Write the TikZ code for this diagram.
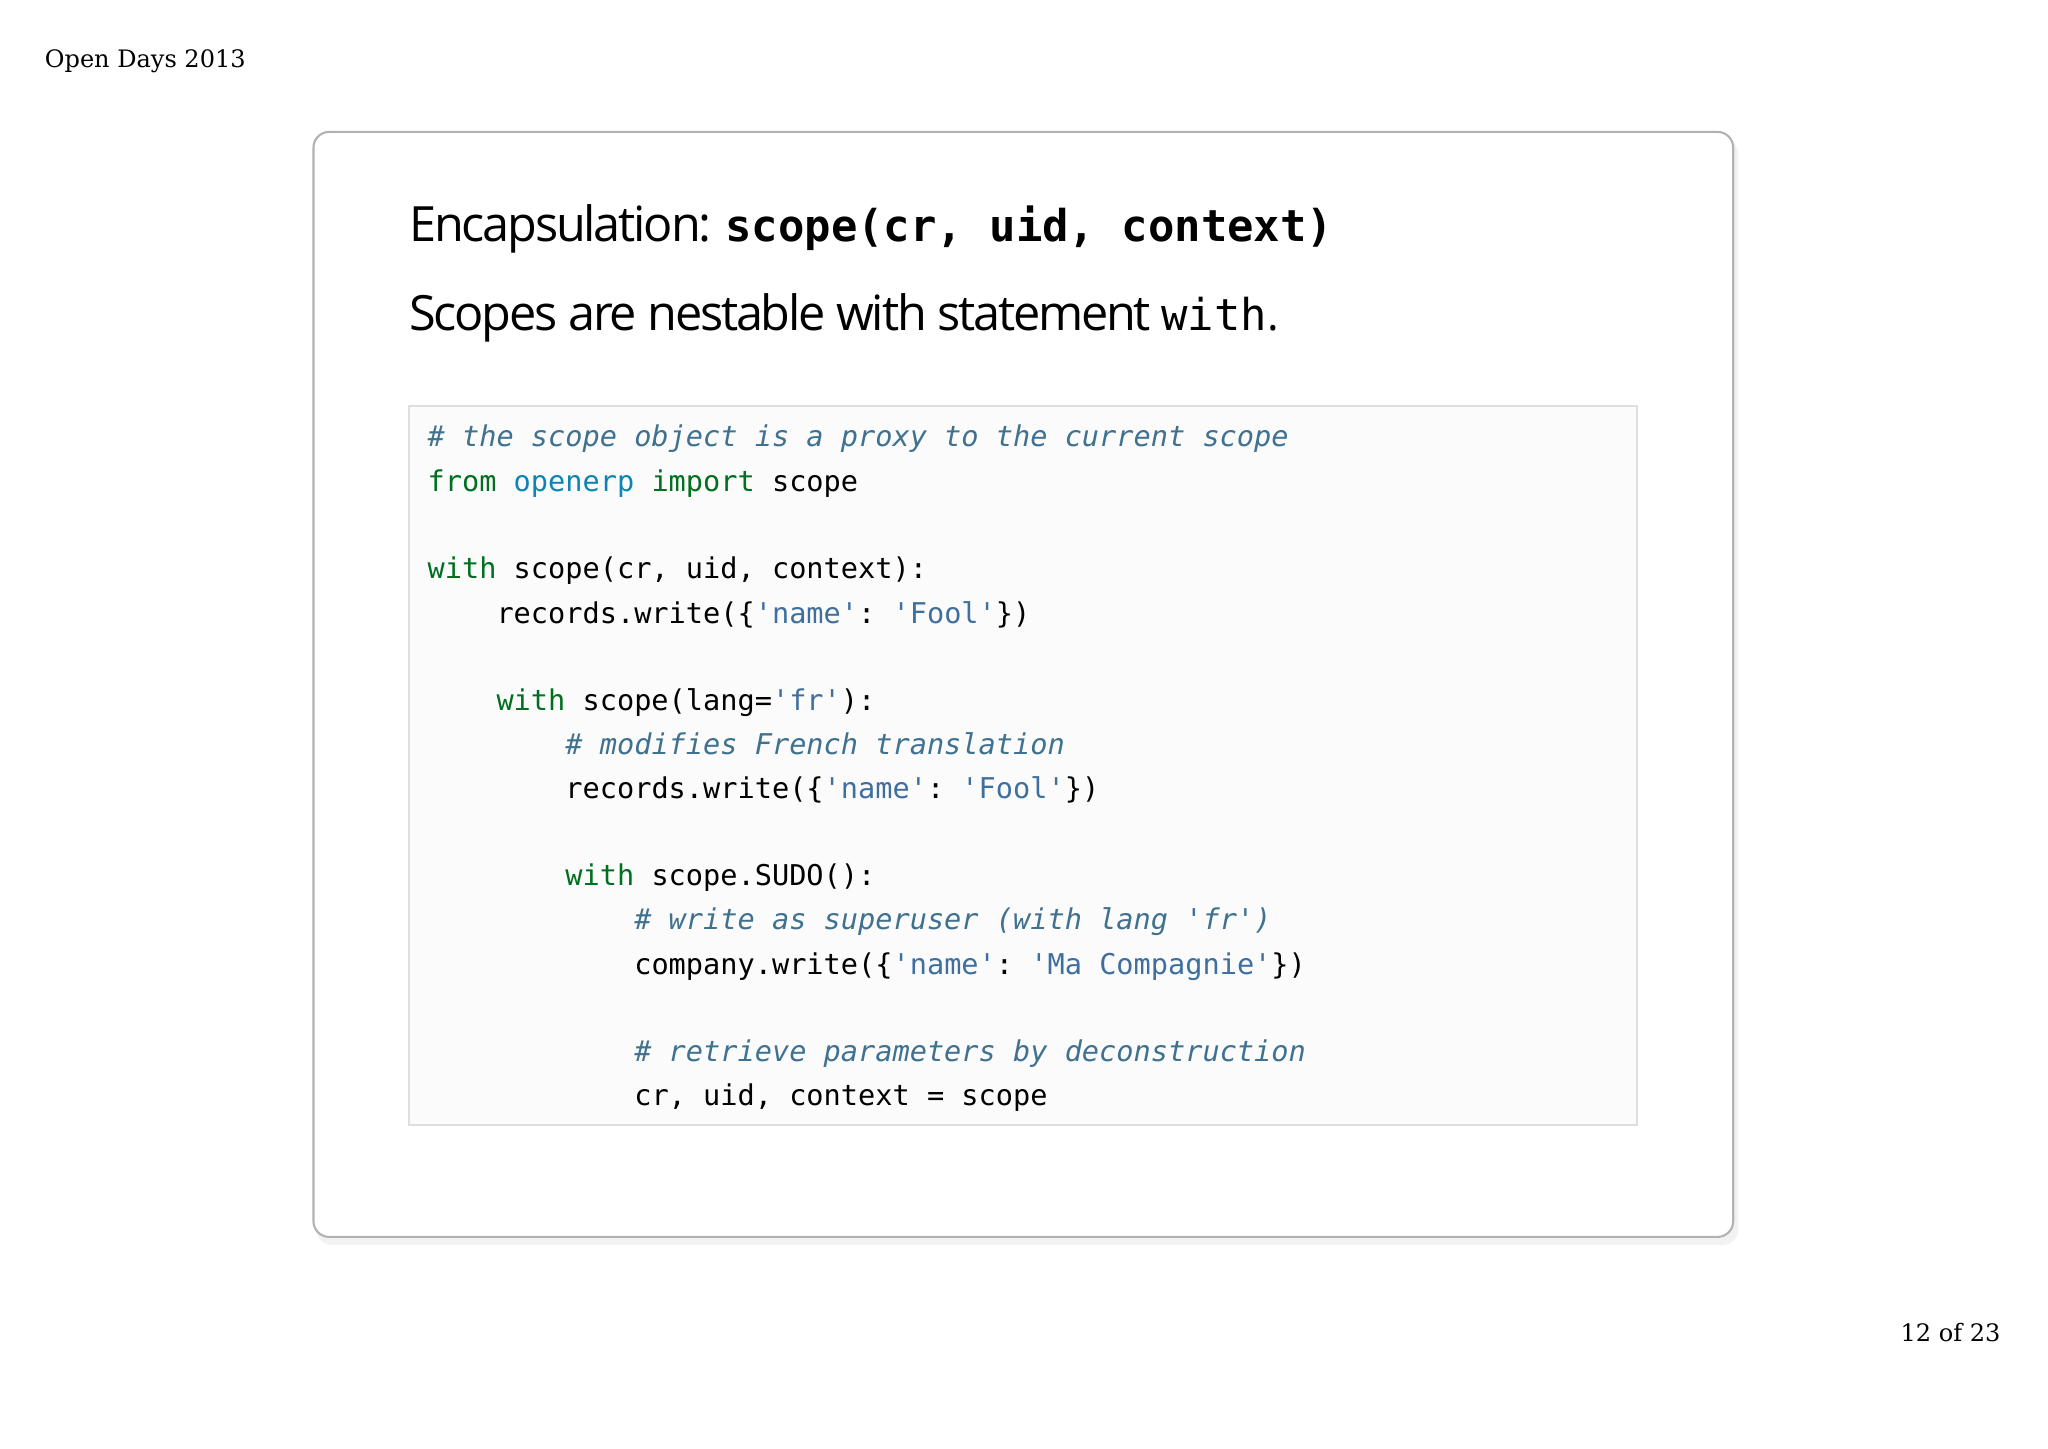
\documentclass[tikz,border=0pt]{standalone}
\usepackage{fontspec}
\setmainfont{Open Sans}
\setmonofont{DejaVu Sans Mono}
\newfontfamily\hdrfont{DejaVu Serif}
\newfontfamily\ttlfont[LetterSpace=-4.5]{Open Sans}
\definecolor{pycom}{HTML}{3F7190}
\definecolor{pykw}{HTML}{007020}
\definecolor{pystr}{HTML}{3F6F9F}
\definecolor{pymod}{HTML}{0E84B5}
\newcommand{\pyc}[1]{\textcolor{pycom}{\itshape #1}}
\newcommand{\pyk}[1]{\textcolor{pykw}{#1}}
\newcommand{\pys}[1]{\textcolor{pystr}{#1}}
\newcommand{\pym}[1]{\textcolor{pymod}{#1}}
\begin{document}
\begin{tikzpicture}[x=0.5pt,y=-0.5pt,
  code/.style={anchor=base west,inner sep=0pt,font=\ttfamily\fontsize{10.95pt}{12pt}\selectfont},
  hdr/.style={inner sep=0pt,font=\hdrfont\fontsize{9.2pt}{10pt}\selectfont}]
\useasboundingbox (0,0) rectangle (1568,1109);
\fill[white] (0,0) rectangle (1568,1109);
\node[hdr,anchor=base west] (h1) at (34,52) {Open Days 2013};
\node[hdr,anchor=base east] (h2) at (1532,1027) {12 of 23};
% card shadow and card
\fill[black!5,rounded corners=6] (242,106) rectangle (1331,953);
\draw[black!30,line width=0.8pt,fill=white,rounded corners=6] (240,101) rectangle (1327,947);
\node[anchor=base west,inner sep=0pt] (t1) at (313,185)
  {\ttlfont\fontsize{18.6pt}{22pt}\selectfont Encapsulation: \ttfamily\bfseries\fontsize{16.8pt}{20pt}\selectfont scope(cr, uid, context)};
\node[anchor=base west,inner sep=0pt] (t2) at (313,253)
  {\ttlfont\fontsize{18.6pt}{22pt}\selectfont Scopes are nestable with statement \ttfamily\fontsize{16.8pt}{20pt}\selectfont with\ttlfont.};
\draw[black!13,line width=0.8pt,fill=black!1.5] (313,311) rectangle (1253,861);
\node[code] (c1) at (327,342) {\pyc{\# the scope object is a proxy to the current scope}};
\node[code] (c2) at (327,376) {\pyk{from} \pym{openerp} \pyk{import} scope};
\node[code] (c3) at (327,443) {\pyk{with} scope(cr, uid, context):};
\node[code] (c4) at (327,477) {\ \ \ \ records.write(\{\pys{'name'}: \pys{'Fool'}\})};
\node[code] (c5) at (327,544) {\ \ \ \ \pyk{with} scope(lang=\pys{'fr'}):};
\node[code] (c6) at (327,578) {\ \ \ \ \ \ \ \ \pyc{\# modifies French translation}};
\node[code] (c7) at (327,611) {\ \ \ \ \ \ \ \ records.write(\{\pys{'name'}: \pys{'Fool'}\})};
\node[code] (c8) at (327,678) {\ \ \ \ \ \ \ \ \pyk{with} scope.SUDO():};
\node[code] (c9) at (327,712) {\ \ \ \ \ \ \ \ \ \ \ \ \pyc{\# write as superuser (with lang 'fr')}};
\node[code] (c10) at (327,746) {\ \ \ \ \ \ \ \ \ \ \ \ company.write(\{\pys{'name'}: \pys{'Ma Compagnie'}\})};
\node[code] (c11) at (327,813) {\ \ \ \ \ \ \ \ \ \ \ \ \pyc{\# retrieve parameters by deconstruction}};
\node[code] (c12) at (327,846) {\ \ \ \ \ \ \ \ \ \ \ \ cr, uid, context = scope};
\end{tikzpicture}
\end{document}
